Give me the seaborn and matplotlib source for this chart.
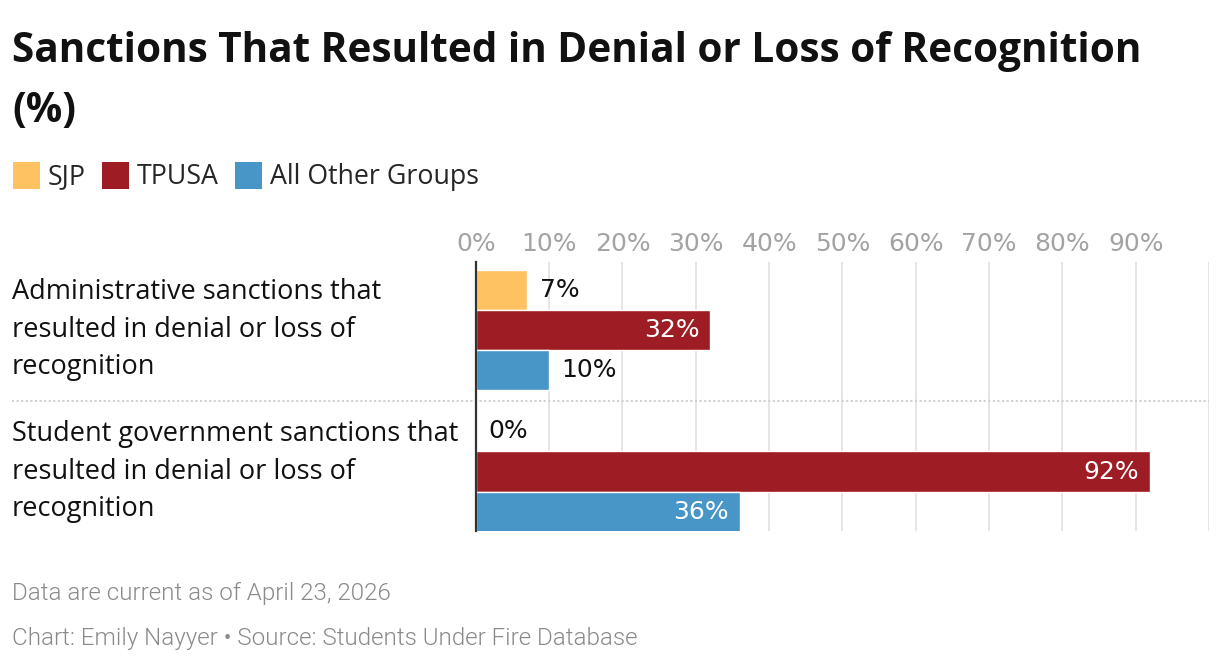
import matplotlib
matplotlib.use("Agg")
import matplotlib.pyplot as plt
from matplotlib.patches import Patch
import seaborn as sns
import pandas as pd

# data
categories = [
    "Administrative sanctions that\nresulted in denial or loss of\nrecognition",
    "Student government sanctions that\nresulted in denial or loss of\nrecognition",
]
groups = ["SJP", "TPUSA", "All Other Groups"]
sjp = [7, 0]
tpusa = [32, 92]
other = [10, 36]
tick_vals = [0, 10, 20, 30, 40, 50, 60, 70, 80, 90, 100]
tick_labels = ["0%", "10%", "20%", "30%", "40%", "50%", "60%", "70%", "80%", "90%", ""]

colors = ["#FEC263", "#9E1C24", "#4896C8"]

rows = []
for i, c in enumerate(categories):
    rows.append({"cat": c, "group": "SJP", "pct": sjp[i]})
    rows.append({"cat": c, "group": "TPUSA", "pct": tpusa[i]})
    rows.append({"cat": c, "group": "All Other Groups", "pct": other[i]})
df = pd.DataFrame(rows)

sns.set_style("white")
plt.rcParams["font.family"] = ["Open Sans", "DejaVu Sans"]
num_font = ["DejaVu Sans"]

fig = plt.figure(figsize=(12.2, 6.64), dpi=100)
ax = fig.add_axes([0.390, 0.2003, 0.601, 0.4053])

sns.barplot(data=df, y="cat", x="pct", hue="group", hue_order=groups,
            palette=colors, orient="h", width=0.85, saturation=1,
            legend=False, ax=ax)

ax.set_xlim(0, 100)
ax.set_ylim(1.42, -0.48)
ax.set_xticks(tick_vals)
ax.set_xticklabels(tick_labels, family=num_font)
ax.xaxis.tick_top()
ax.tick_params(axis="x", length=0, pad=4, labelsize=18, labelcolor="#a3a3a3")
ax.grid(axis="x", color="#e3e3e3", linewidth=1.3)
ax.set_axisbelow(True)
ax.set_xlabel("")
ax.set_ylabel("")

ax.set_yticks([0, 1])
ax.set_yticklabels(categories, ha="left", va="center", fontsize=19.5,
                   color="#111111", linespacing=1.45)
ax.tick_params(axis="y", length=0, pad=334)

for s in ["top", "right", "bottom"]:
    ax.spines[s].set_visible(False)
ax.spines["left"].set_color("#333333")
ax.spines["left"].set_linewidth(1.6)
ax.spines["left"].set_zorder(5)

# dotted separator between the groups
ax.plot([-0.633, 1.0], [0.5, 0.5], transform=ax.get_yaxis_transform(),
        clip_on=False, color="#d0d0d0", linestyle=(0, (1, 1.2)), linewidth=1.5)

# value labels
for cont in ax.containers:
    for bar in cont:
        w = bar.get_width()
        yc = bar.get_y() + bar.get_height() / 2
        if w >= 20:
            ax.text(w - 1.5, yc, f"{w:.0f}%", ha="right", va="center",
                    color="white", fontsize=18, family=num_font)
        else:
            ax.text(w + 1.7, yc, f"{w:.0f}%", ha="left", va="center",
                    color="#111111", fontsize=18, family=num_font)

fig.text(0.0098, 0.953, "Sanctions That Resulted in Denial or Loss of Recognition\n(%)",
         ha="left", va="top", fontsize=29.2, fontweight="bold", color="#111111",
         linespacing=1.62)

handles = [Patch(facecolor=c, edgecolor="none") for c in colors]
fig.legend(handles, groups, loc="upper left", bbox_to_anchor=(0.002, 0.772),
           ncol=3, frameon=False, fontsize=19.3, handlelength=1.0, handleheight=1.15,
           handletextpad=0.3, columnspacing=0.6, borderaxespad=0)

foot_font = ["Roboto", "DejaVu Sans"]
fig.text(0.0098, 0.106, "Data are current as of April 23, 2026", ha="left",
         va="center", fontsize=17.4, color="#8a8a8a", family=foot_font, fontweight=300)
fig.text(0.0098, 0.038, "Chart: Emily Nayyer \u2022 Source: Students Under Fire Database",
         ha="left", va="center", fontsize=17.4, color="#8a8a8a", family=foot_font,
         fontweight=300)

fig.savefig("out.png", dpi=100)
